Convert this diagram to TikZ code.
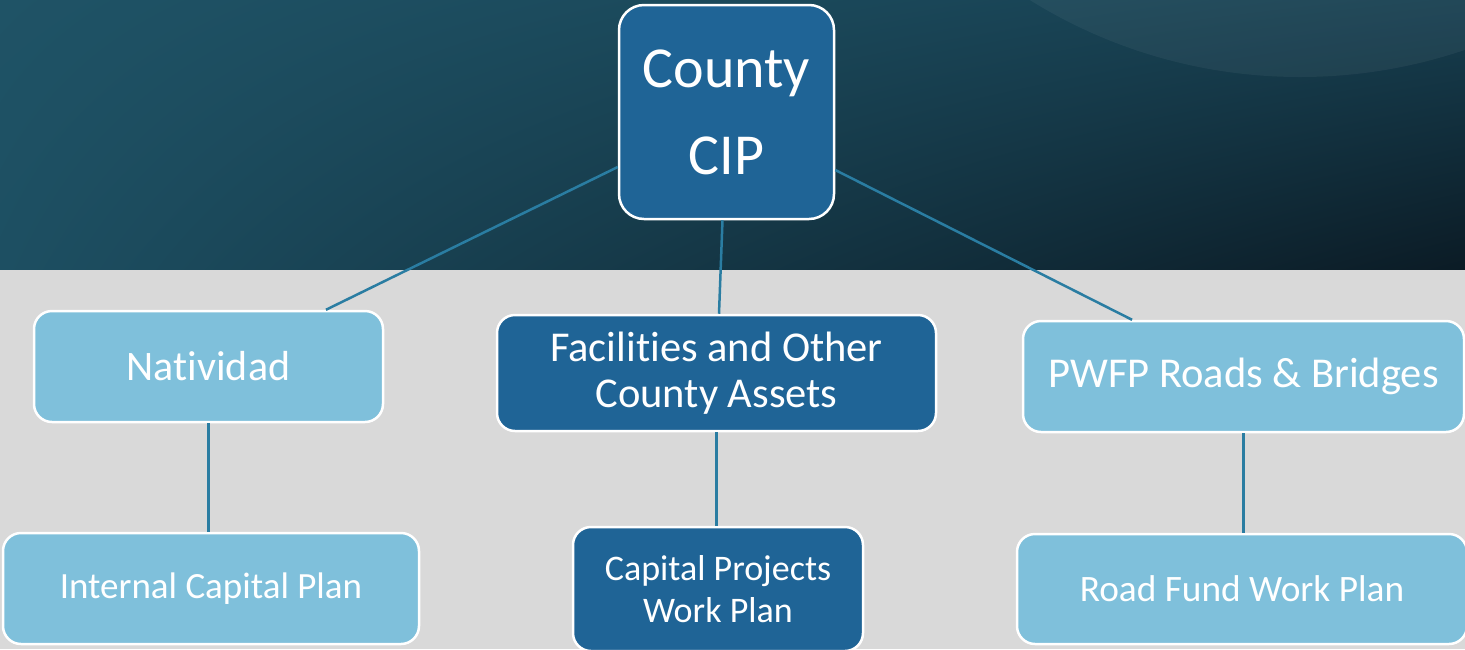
\documentclass[tikz,border=0pt]{standalone}
\usepackage{fontspec}
\setmainfont{Carlito}[Ligatures=NoCommon]
\usetikzlibrary{shadings}
\definecolor{ulc}{HTML}{1F5366}
\definecolor{urc}{HTML}{173F50}
\definecolor{llc}{HTML}{1D4F62}
\definecolor{lrc}{HTML}{0B1B25}
\definecolor{bggrey}{HTML}{D9D9D9}
\definecolor{lightfill}{HTML}{7FC0DB}
\definecolor{darkfill}{HTML}{1F6496}
\definecolor{connc}{HTML}{2A7DA2}
\tikzset{
  box/.style={draw=white, line width=2.5pt, rounded corners=18pt, text=white, inner sep=0pt, align=center},
  lightbox/.style={box, fill=lightfill},
  darkbox/.style={box, fill=darkfill},
  conn/.style={draw=connc, line width=2.5pt}
}
\begin{document}
\begin{tikzpicture}[x=1pt,y=-1pt]
\useasboundingbox (0,0) rectangle (1465,649);
% background
\shade[upper left=ulc, upper right=urc, lower left=llc, lower right=lrc] (0,0) rectangle (1465,270);
\begin{scope}
\clip (0,0) rectangle (1465,270);
\fill[white, opacity=0.05] (1300,-435) circle (512);
\end{scope}
\fill[bggrey] (0,270) rectangle (1465,649);
% nodes
\node[darkbox, rounded corners=25pt, minimum width=215, minimum height=214,
      font=\fontsize{58}{87}\selectfont] (cip) at (726.5,112) {County\\CIP};
\node[lightbox, minimum width=349, minimum height=111,
      font=\fontsize{42}{50}\selectfont] (nat) at (208.5,366.5) {Natividad};
\node[darkbox, minimum width=439, minimum height=116,
      font=\fontsize{42.5}{46}\selectfont] (fac) at (716.5,373) {Facilities and Other\\County Assets};
\node[lightbox, minimum width=441, minimum height=111,
      font=\fontsize{42.5}{50}\selectfont] (pwfp) at (1243.5,376.5) {PWFP Roads \& Bridges};
\node[lightbox, minimum width=416, minimum height=111,
      font=\fontsize{37}{44}\selectfont] (icp) at (211,588.5) {Internal Capital Plan};
\node[darkbox, minimum width=290, minimum height=124,
      font=\fontsize{36}{42}\selectfont] (cpw) at (718,589) {Capital Projects\\Work Plan};
\node[lightbox, minimum width=450, minimum height=110,
      font=\fontsize{37.3}{44}\selectfont] (rfw) at (1242,589) {Road Fund Work Plan};
% connectors
\draw[conn] ([yshift=-55pt]cip.west) -- ([xshift=117.5pt]nat.north);
\draw[conn] ([xshift=-4pt]cip.south) -- ([xshift=2.5pt]fac.north);
\draw[conn] ([yshift=-58pt]cip.east) -- ([xshift=-111.5pt]pwfp.north);
\draw[conn] (nat.south) -- (nat.south |- icp.north);
\draw[conn] (fac.south) -- (fac.south |- cpw.north);
\draw[conn] (pwfp.south) -- (pwfp.south |- rfw.north);
\end{tikzpicture}
\end{document}
